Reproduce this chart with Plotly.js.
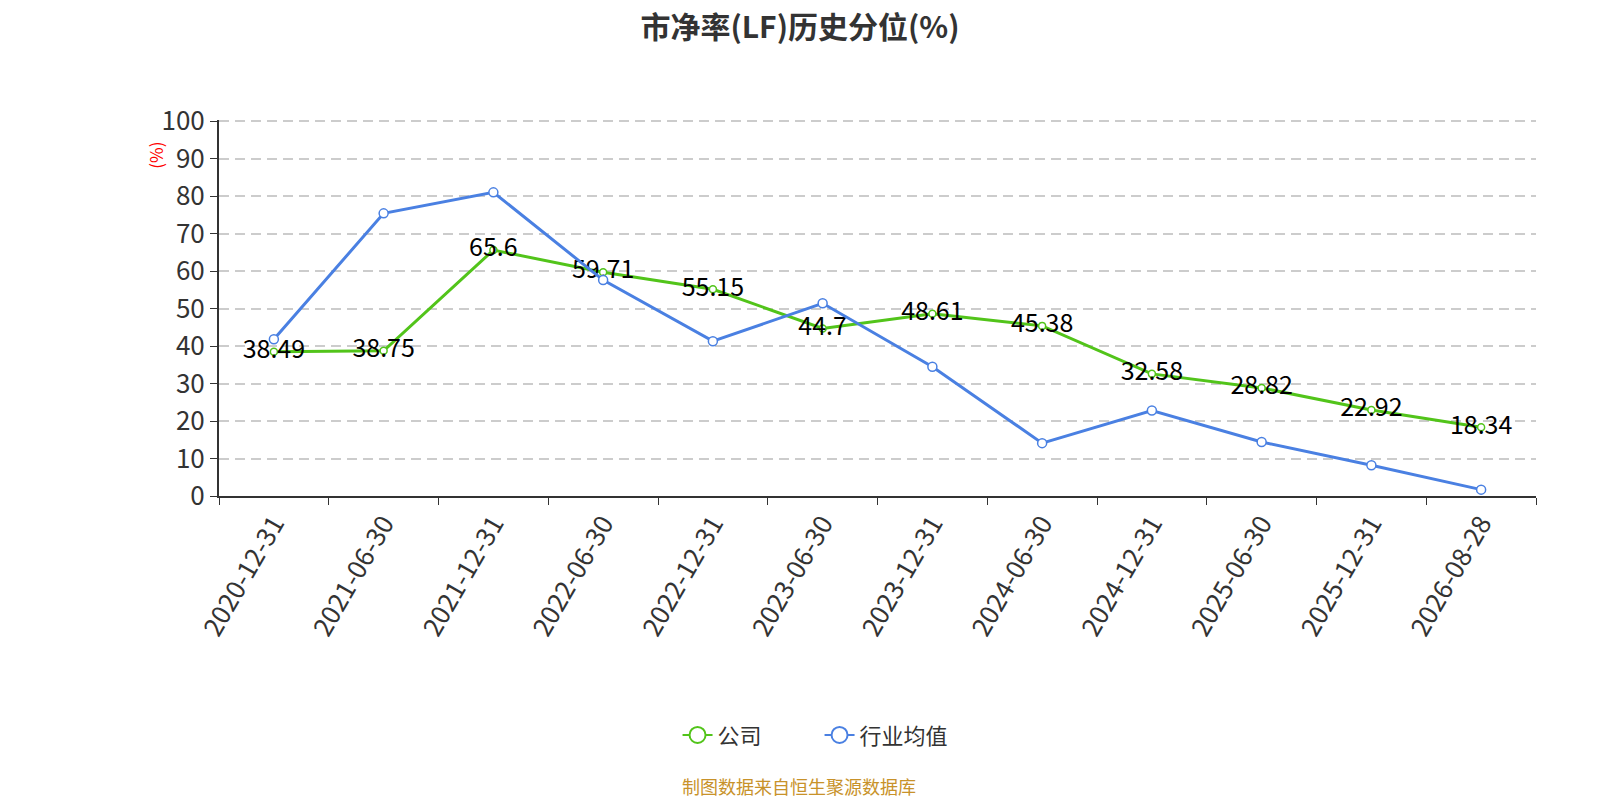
<!DOCTYPE html>
<html>
<head>
<meta charset="utf-8">
<script src="https://cdn.plot.ly/plotly-3.0.1.min.js"></script>
<style>
  html, body { margin: 0; padding: 0; background: #fff; }
  #chart { width: 1600px; height: 800px; }
</style>
</head>
<body>
<div id="chart"></div>
<script>
const dates = [ '2020-12-31', '2021-06-30', '2021-12-31', '2022-06-30', '2022-12-31', '2023-06-30',
    '2023-12-31', '2024-06-30', '2024-12-31', '2025-06-30', '2025-12-31', '2026-08-28' ];
const companyValues = [ 38.49, 38.75, 65.6, 59.71, 55.15, 44.7, 48.61, 45.38, 32.58, 28.82, 22.92, 18.34 ];
const industryValues = [ 41.8, 75.4, 81.0, 57.6, 41.3, 51.4, 34.5, 14.1, 22.8, 14.4, 8.2, 1.7 ];
const yTicks = [ 0, 10, 20, 30, 40, 50, 60, 70, 80, 90, 100 ];

const font = '"Noto Sans CJK SC", "Noto Sans", sans-serif';
const green = '#52c41a';
const blue = '#4a80e2';

// Series lines; legend entries come from the two empty traces below (bigger circles).
const data = [
    {
        name: '公司',
        x: dates,
        y: companyValues,
        type: 'scatter',
        mode: 'lines+markers+text',
        text: companyValues.map(String),
        textposition: 'middle center',
        textfont: { size: 25, color: '#000', family: font },
        line: { color: green, width: 3 },
        marker: { size: 7, color: '#fff', line: { color: green, width: 1.5 } },
        cliponaxis: false,
        showlegend: false,
    },
    {
        name: '行业均值',
        x: dates,
        y: industryValues,
        type: 'scatter',
        mode: 'lines+markers',
        line: { color: blue, width: 3 },
        marker: { size: 9, color: '#fff', line: { color: blue, width: 1.5 } },
        cliponaxis: false,
        showlegend: false,
    },
    {
        name: '公司',
        x: [ null ],
        y: [ null ],
        type: 'scatter',
        mode: 'lines+markers',
        line: { color: green, width: 2 },
        marker: { size: 17, color: '#fff', line: { color: green, width: 2 } },
    },
    {
        name: '行业均值',
        x: [ null ],
        y: [ null ],
        type: 'scatter',
        mode: 'lines+markers',
        line: { color: blue, width: 2 },
        marker: { size: 17, color: '#fff', line: { color: blue, width: 2 } },
    },
];

const layout = {
    width: 1600,
    height: 800,
    margin: { l: 219, r: 64, t: 120, b: 304 },
    paper_bgcolor: '#fff',
    plot_bgcolor: '#fff',
    font: { family: font, color: '#333' },
    title: {
        text: '<b>市净率(LF)历史分位(%)</b>',
        x: 0.5,
        xanchor: 'center',
        y: 0.966,
        yanchor: 'middle',
        font: { size: 30, color: '#333', family: font },
    },
    showlegend: true,
    legend: {
        orientation: 'h',
        x: 0.456,
        xanchor: 'center',
        y: -0.636,
        yanchor: 'middle',
        font: { size: 22, color: '#333', family: font },
        entrywidth: 97,
    },
    xaxis: {
        type: 'category',
        range: [ -0.5, 11.5 ],
        tickson: 'boundaries',
        ticks: 'outside',
        ticklen: 7,
        tickcolor: '#333',
        tickangle: -60,
        tickfont: { size: 26, color: '#333', family: font },
        showline: true,
        linecolor: '#333',
        linewidth: 2,
        showgrid: false,
        zeroline: false,
    },
    yaxis: {
        range: [ 0, 100.3 ],
        tickvals: yTicks,
        ticks: 'outside',
        ticklen: 7,
        tickcolor: '#333',
        tickfont: { size: 26, color: '#333', family: font },
        showline: true,
        linecolor: '#333',
        linewidth: 2,
        showgrid: true,
        gridcolor: '#ccc',
        griddash: '10px,6px',
        gridwidth: 1.5,
        zeroline: false,
    },
    annotations: [
        {
            text: '(%)',
            xref: 'paper',
            yref: 'paper',
            x: -0.048,
            xanchor: 'center',
            y: 0.907,
            yanchor: 'middle',
            textangle: -90,
            showarrow: false,
            font: { size: 17, color: 'red', family: font },
        },
        {
            text: '制图数据来自恒生聚源数据库',
            xref: 'paper',
            yref: 'paper',
            x: 0.4404,
            xanchor: 'center',
            y: -0.772,
            yanchor: 'middle',
            showarrow: false,
            font: { size: 18, color: '#c8922a', family: font },
        },
    ],
};

Plotly.newPlot('chart', data, layout, { displayModeBar: false });
</script>
</body>
</html>
